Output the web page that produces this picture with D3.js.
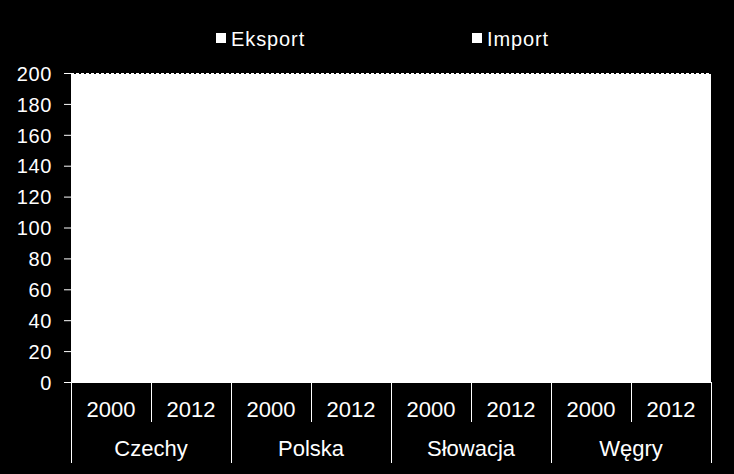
<!DOCTYPE html>
<html>
<head>
<meta charset="utf-8">
<script src="https://cdn.jsdelivr.net/npm/d3@7"></script>
<style>
  html, body { margin: 0; padding: 0; background: #000; }
  svg { display: block; font-family: "Liberation Sans", Arial, sans-serif; }
</style>
</head>
<body>
<svg id="chart" width="734" height="474"></svg>
<script>
// ---- data ----
const countries = ["Czechy", "Polska", "Słowacja", "Węgry"];
const years = ["2000", "2012"];
const seriesNames = ["Eksport", "Import"];
// values (% of GDP) – bars are white on a white plot area in the reference
const eksport = [60, 79, 28, 46, 70, 96, 74, 95];
const importVals = [63, 76, 33, 47, 73, 92, 77, 89];
const yTicks = [0, 20, 40, 60, 80, 100, 120, 140, 160, 180, 200];

(function () {
const svg = d3.select("#chart");
const W = 734, H = 474;
const mLeft = 71, mRight = 711, mTop = 73, mBottom = 382;

svg.append("rect").attr("width", W).attr("height", H).attr("fill", "#000");

const y = d3.scaleLinear().domain([0, 200]).range([mBottom, mTop]);
const xCountry = d3.scaleBand().domain(countries).range([mLeft, mRight]).padding(0);
const slots = [];
countries.forEach(c => years.forEach(yr => slots.push(c + "|" + yr)));
const xSlot = d3.scaleBand().domain(slots).range([mLeft, mRight]).padding(0);
const xSeries = d3.scaleBand().domain(seriesNames).range([0, xSlot.bandwidth()]).padding(0);

// plot area (white)
svg.append("rect")
  .attr("x", mLeft).attr("y", y(200) + 1)
  .attr("width", mRight - mLeft).attr("height", y(0) - y(200) - 1)
  .attr("fill", "#fff");

// gridlines (white dashed)
svg.append("g").selectAll("line").data(yTicks.filter(d => d > 0)).join("line")
  .attr("x1", mLeft).attr("x2", mRight)
  .attr("y1", d => Math.round(y(d)) + 0.5).attr("y2", d => Math.round(y(d)) + 0.5)
  .attr("stroke", "#fff").attr("stroke-width", 1).attr("stroke-dasharray", "3,2");

// bars (white, as in reference)
const barData = [];
slots.forEach((s, i) => {
  barData.push({ slot: s, series: "Eksport", v: eksport[i] });
  barData.push({ slot: s, series: "Import", v: importVals[i] });
});
svg.append("g").selectAll("rect").data(barData).join("rect")
  .attr("x", d => xSlot(d.slot) + xSeries(d.series))
  .attr("y", d => y(d.v))
  .attr("width", xSeries.bandwidth())
  .attr("height", d => y(0) - y(d.v))
  .attr("fill", "#fff");

// y axis
const yAxis = d3.axisLeft(y).tickValues(yTicks).tickSize(7).tickPadding(12);
const gy = svg.append("g").attr("transform", `translate(${mLeft},0)`).call(yAxis);
gy.select(".domain").attr("stroke", "#fff");
gy.selectAll(".tick line").attr("stroke", "#fff");
gy.selectAll(".tick text").attr("fill", "#fff").style("font-size", "20px")
  .style("letter-spacing", "0.6px").attr("dy", "0.36em");

// x axis baseline
svg.append("line").attr("x1", mLeft).attr("x2", mRight)
  .attr("y1", mBottom + 0.5).attr("y2", mBottom + 0.5).attr("stroke", "#fff");

// separators
const seps = d3.range(0, slots.length + 1);
svg.append("g").selectAll("line").data(seps).join("line")
  .attr("x1", i => (i < slots.length ? xSlot(slots[i]) : mRight) + 0.5)
  .attr("x2", i => (i < slots.length ? xSlot(slots[i]) : mRight) + 0.5)
  .attr("y1", mBottom)
  .attr("y2", i => i % 2 === 0 ? 463 : 422)
  .attr("stroke", "#fff");

// year labels
svg.append("g").selectAll("text").data(slots).join("text")
  .attr("x", s => xSlot(s) + xSlot.bandwidth() / 2)
  .attr("y", 417)
  .attr("text-anchor", "middle")
  .attr("fill", "#fff").style("font-size", "22px")
  .text(s => s.split("|")[1]);

// country labels
svg.append("g").selectAll("text").data(countries).join("text")
  .attr("x", c => xCountry(c) + xCountry.bandwidth() / 2)
  .attr("y", 456)
  .attr("text-anchor", "middle")
  .attr("fill", "#fff").style("font-size", "22px")
  .text(c => c);

// legend
const legendX = [216, 472];
const lg = svg.append("g").selectAll("g").data(seriesNames).join("g")
  .attr("transform", (d, i) => `translate(${legendX[i]},33)`);
lg.append("rect").attr("width", 10).attr("height", 10).attr("fill", "#fff");
lg.append("text").attr("x", 15).attr("y", 13)
  .attr("fill", "#fff").style("font-size", "20px").style("letter-spacing", "0.9px")
  .text(d => d);
})();
</script>
</body>
</html>
